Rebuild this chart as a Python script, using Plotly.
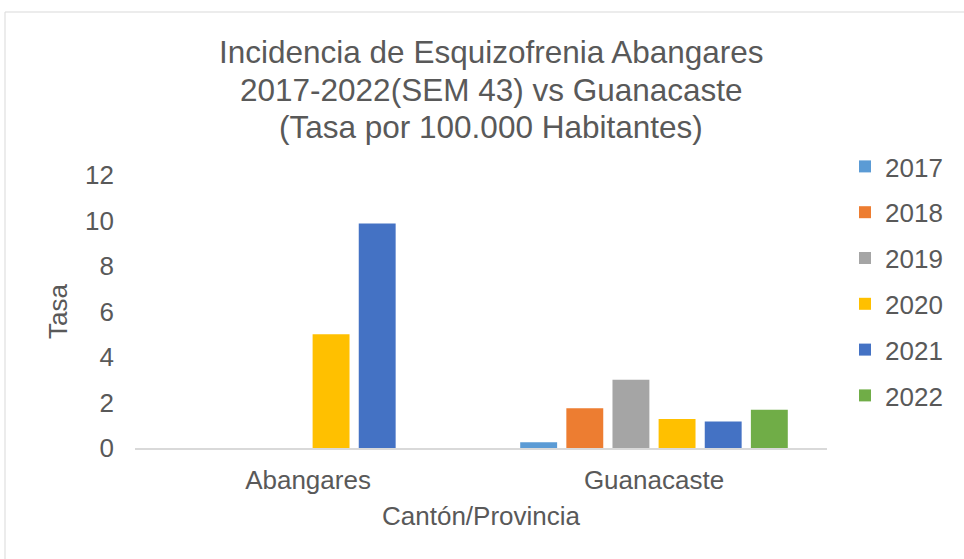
import plotly.graph_objects as go

categories = ["Abangares", "Guanacaste"]
years = ["2017", "2018", "2019", "2020", "2021", "2022"]
values_2017 = [0, 0.25]
values_2018 = [0, 1.75]
values_2019 = [0, 3.0]
values_2020 = [5.0, 1.27]
values_2021 = [9.87, 1.17]
values_2022 = [0, 1.68]
series = [values_2017, values_2018, values_2019, values_2020, values_2021, values_2022]
colors = ["#5B9BD5", "#ED7D31", "#A5A5A5", "#FFC000", "#4472C4", "#70AD47"]
title_lines = ["Incidencia de Esquizofrenia Abangares",
               "2017-2022(SEM 43) vs Guanacaste",
               "(Tasa por 100.000 Habitantes)"]

FONT = "Liberation Sans, Arial, sans-serif"
TXT = "#595959"
FS = 26

fig = go.Figure()
for yr, vals, col in zip(years, series, colors):
    fig.add_trace(go.Bar(name=yr, x=categories, y=vals, marker_color=col,
                         marker_line_width=0, legendgroup=yr))

L, R, T, B = 135, 137, 175, 111
pw = 964 - L - R
ph = 559 - T - B

title_centers_px = [52, 89.5, 127]
annotations = [dict(text=t, xref="paper", yref="paper",
                    x=(491 - L)/pw, y=(448 - cy)/ph, xanchor="center", yanchor="middle",
                    showarrow=False, font=dict(size=31.5, color=TXT, family=FONT))
               for t, cy in zip(title_lines, title_centers_px)]

fig.update_layout(
    width=964, height=559,
    margin=dict(l=L, r=R, t=T, b=B, autoexpand=False),
    paper_bgcolor="white", plot_bgcolor="white",
    barmode="group", bargap=0.2, bargroupgap=0.2,
    font=dict(family=FONT, color=TXT, size=FS),
    annotations=annotations,
    legend=dict(x=(845 - L)/pw, xanchor="left", y=1 + (175-143)/ph, yanchor="top",
                font=dict(size=FS, color=TXT), tracegroupgap=9,
                bgcolor="rgba(0,0,0,0)"),
    showlegend=True,
    xaxis=dict(showgrid=False, showline=True, linecolor="#D9D9D9", linewidth=1.5,
               ticks="", tickfont=dict(size=FS, color=TXT), ticklabelstandoff=8,
               title=dict(text="Cantón/Provincia", font=dict(size=FS, color=TXT), standoff=13)),
    yaxis=dict(range=[0, 12], dtick=2, showgrid=False, showline=False, zeroline=False,
               ticks="", tickfont=dict(size=FS, color=TXT), ticklabelstandoff=20,
               title=dict(text="Tasa", font=dict(size=FS, color=TXT), standoff=9)),
    shapes=[dict(type="rect", xref="paper", yref="paper",
                 x0=(5 - L)/pw, x1=(1000 - L)/pw,
                 y0=-(600 - 448)/ph, y1=(448 - 12)/ph,
                 line=dict(color="#D9D9D9", width=1), fillcolor="rgba(0,0,0,0)", layer="below")],
)

fig.write_html("out.html", config={"displayModeBar": False},
               post_script="document.body.style.margin='0';document.body.style.overflow='hidden';")
